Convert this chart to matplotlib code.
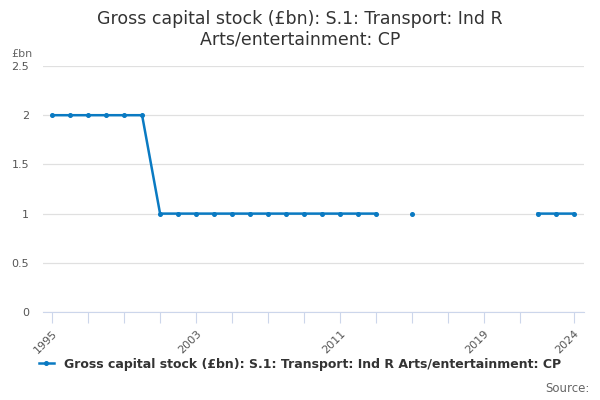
import numpy as np
import matplotlib.pyplot as plt

# Gross capital stock, values in £bn
years = list(range(1995, 2025))
values = [2, 2, 2, 2, 2, 2,
          1, 1, 1, 1, 1, 1, 1, 1, 1, 1, 1, 1, 1,
          np.nan, 1,
          np.nan, np.nan, np.nan, np.nan, np.nan, np.nan,
          1, 1, 1]

tick_years = list(range(1995, 2022, 2)) + [2024]
label_years = [1995, 2003, 2011, 2019, 2024]
series_name = "Gross capital stock (£bn): S.1: Transport: Ind R Arts/entertainment: CP"

fig = plt.figure(figsize=(6, 4), dpi=100)
ax = fig.add_axes([0.072, 0.22, 0.902, 0.615])

ax.plot(years, values, color="#0a7ac2", linewidth=1.8, marker="o", markersize=2.6,
        label=series_name)

ax.set_xlim(1994.5, 2024.6)
ax.set_ylim(0, 2.5)
ax.set_yticks([0, 0.5, 1, 1.5, 2, 2.5])
ax.set_yticklabels(["0", "0.5", "1", "1.5", "2", "2.5"])
ax.set_xticks(tick_years)
ax.set_xticklabels([str(y) if y in label_years else "" for y in tick_years],
                   rotation=45, ha="right", rotation_mode="anchor")

ax.grid(axis="y", color="#e0e0e0", linewidth=0.9)
ax.set_axisbelow(True)
for s in ["top", "right", "left"]:
    ax.spines[s].set_visible(False)
ax.spines["bottom"].set_color("#ccd6eb")
ax.tick_params(axis="x", colors="#ccd6eb", length=8, labelcolor="#555555", labelsize=8)
ax.tick_params(axis="y", length=0, labelcolor="#555555", labelsize=8, pad=16)
for lbl in ax.get_yticklabels():
    lbl.set_horizontalalignment("right")
ax.tick_params(axis="y", pad=10)

fig.text(0.5, 0.975, "Gross capital stock (£bn): S.1: Transport: Ind R\nArts/entertainment: CP",
         ha="center", va="top", fontsize=12.5, color="#333333", linespacing=1.2)
fig.text(0.018, 0.858, "£bn", fontsize=8, color="#666666")

fig.legend(handles=ax.get_lines(), loc="lower center", bbox_to_anchor=(0.5, 0.045),
           frameon=False, prop={"weight": "bold", "size": 9}, handlelength=1.2,
           labelcolor="#333333")
fig.text(0.982, 0.02, "Source:", ha="right", fontsize=8.5, color="#666666")

fig.savefig("out.png", dpi=100)
